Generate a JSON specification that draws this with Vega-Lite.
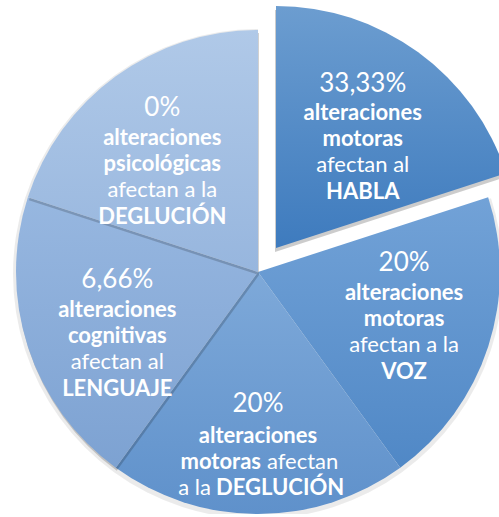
{
  "$schema": "https://vega.github.io/schema/vega-lite/v6.json",
  "width": 484,
  "height": 484,
  "autosize": {"type": "none"},
  "padding": {"left": 16, "top": 30, "right": 0, "bottom": 0},
  "background": "white",
  "view": {"stroke": null},
  "data": {
    "values": [
      {"order": 1, "value": 1, "pct": "", "l1": "", "l2": "", "l3": "", "l4": "", "e0": "33,33%", "e1": "alteraciones", "e2": "motoras", "e3": "afectan al", "e4": "HABLA", "p3": "", "a3": "", "m3b": "", "m3r": "", "d3r": "", "d3b": ""},
      {"order": 2, "value": 1, "pct": "20%", "l1": "alteraciones", "l2": "motoras", "l3": "afectan a la", "l4": "VOZ", "e0": "", "e1": "", "e2": "", "e3": "", "e4": "", "p3": "", "a3": "", "m3b": "", "m3r": "", "d3r": "", "d3b": ""},
      {"order": 3, "value": 1, "pct": "", "l1": "", "l2": "", "l3": "", "l4": "", "e0": "", "e1": "", "e2": "", "e3": "", "e4": "", "p3": "20%", "a3": "alteraciones", "m3b": "motoras", "m3r": "afectan", "d3r": "a la", "d3b": "DEGLUCIÓN"},
      {"order": 4, "value": 1, "pct": "6,66%", "l1": "alteraciones", "l2": "cognitivas", "l3": "afectan al", "l4": "LENGUAJE", "e0": "", "e1": "", "e2": "", "e3": "", "e4": "", "p3": "", "a3": "", "m3b": "", "m3r": "", "d3r": "", "d3b": ""},
      {"order": 5, "value": 1, "pct": "0%", "l1": "alteraciones", "l2": "psicológicas", "l3": "afectan a la", "l4": "DEGLUCIÓN", "e0": "", "e1": "", "e2": "", "e3": "", "e4": "", "p3": "", "a3": "", "m3b": "", "m3r": "", "d3r": "", "d3b": ""}
    ]
  },
  "transform": [
    {"stack": "value", "groupby": [], "sort": [{"field": "order", "order": "ascending"}], "as": ["t0", "t1"]}
  ],
  "layer": [
    {
      "transform": [{"filter": "datum.order != 1"}],
      "mark": {"type": "arc", "fill": "#000000", "opacity": 0.08, "outerRadius": {"expr": "min(width,height)/2 + 3"}, "y": {"expr": "height/2 + 2"}},
      "encoding": {"theta": {"field": "t0", "type": "quantitative"}, "theta2": {"field": "t1"}}
    },
    {
      "transform": [{"filter": "datum.order == 2"}],
      "mark": {"type": "arc", "fill": {"gradient": "linear", "x1": 0, "y1": 0, "x2": 0, "y2": 1, "stops": [{"offset": 0, "color": "#72a2d7"}, {"offset": 1, "color": "#5088c6"}]}},
      "encoding": {"theta": {"field": "t0", "type": "quantitative"}, "theta2": {"field": "t1"}}
    },
    {
      "transform": [{"filter": "datum.order == 3"}],
      "mark": {"type": "arc", "fill": {"gradient": "linear", "x1": 0, "y1": 0, "x2": 0, "y2": 1, "stops": [{"offset": 0, "color": "#7ea9d9"}, {"offset": 1, "color": "#5f91cb"}]}},
      "encoding": {"theta": {"field": "t0", "type": "quantitative"}, "theta2": {"field": "t1"}}
    },
    {
      "transform": [{"filter": "datum.order == 4"}],
      "mark": {"type": "arc", "fill": "#000000", "opacity": 0.18, "x": {"expr": "width/2 + 1"}, "y": {"expr": "height/2 + 3"}},
      "encoding": {"theta": {"field": "t0", "type": "quantitative"}, "theta2": {"field": "t1"}}
    },
    {
      "transform": [{"filter": "datum.order == 4"}],
      "mark": {"type": "arc", "fill": {"gradient": "linear", "x1": 0, "y1": 0, "x2": 0, "y2": 1, "stops": [{"offset": 0, "color": "#97b7e0"}, {"offset": 1, "color": "#7da2d2"}]}},
      "encoding": {"theta": {"field": "t0", "type": "quantitative"}, "theta2": {"field": "t1"}}
    },
    {
      "transform": [{"filter": "datum.order == 5"}],
      "mark": {"type": "arc", "fill": "#000000", "opacity": 0.18, "x": {"expr": "width/2 + 1"}, "y": {"expr": "height/2 + 3"}},
      "encoding": {"theta": {"field": "t0", "type": "quantitative"}, "theta2": {"field": "t1"}}
    },
    {
      "transform": [{"filter": "datum.order == 5"}],
      "mark": {"type": "arc", "fill": {"gradient": "linear", "x1": 0, "y1": 0, "x2": 0, "y2": 1, "stops": [{"offset": 0, "color": "#b0c9e8"}, {"offset": 1, "color": "#97b6de"}]}},
      "encoding": {"theta": {"field": "t0", "type": "quantitative"}, "theta2": {"field": "t1"}}
    },
    {
      "transform": [{"filter": "datum.order == 1"}],
      "mark": {"type": "arc", "fill": "#000000", "opacity": 0.2, "x": {"expr": "width/2 + 17"}, "y": {"expr": "height/2 - 20"}},
      "encoding": {"theta": {"field": "t0", "type": "quantitative"}, "theta2": {"field": "t1"}}
    },
    {
      "transform": [{"filter": "datum.order == 1"}],
      "mark": {"type": "arc", "x": {"expr": "width/2 + 18"}, "y": {"expr": "height/2 - 24"}, "fill": {"gradient": "linear", "x1": 0, "y1": 0, "x2": 0, "y2": 1, "stops": [{"offset": 0, "color": "#6c9dd0"}, {"offset": 1, "color": "#3e7bbe"}]}},
      "encoding": {"theta": {"field": "t0", "type": "quantitative"}, "theta2": {"field": "t1"}}
    },
    {
      "mark": {"type": "text", "radius": 151, "thetaOffset": -0.058, "font": "Lato", "fontSize": 26, "color": "white", "baseline": "middle", "dy": -47},
      "encoding": {"theta": {"field": "value", "type": "quantitative", "stack": true}, "order": {"field": "order"}, "text": {"field": "pct"}}
    },
    {
      "mark": {"type": "text", "radius": 151, "thetaOffset": -0.058, "font": "Lato", "fontSize": 22, "fontWeight": "bold", "color": "white", "baseline": "middle", "dy": -17},
      "encoding": {"theta": {"field": "value", "type": "quantitative", "stack": true}, "order": {"field": "order"}, "text": {"field": "l1"}}
    },
    {
      "mark": {"type": "text", "radius": 151, "thetaOffset": -0.058, "font": "Lato", "fontSize": 22, "fontWeight": "bold", "color": "white", "baseline": "middle", "dy": 9},
      "encoding": {"theta": {"field": "value", "type": "quantitative", "stack": true}, "order": {"field": "order"}, "text": {"field": "l2"}}
    },
    {
      "mark": {"type": "text", "radius": 151, "thetaOffset": -0.058, "font": "Lato", "fontSize": 22, "color": "white", "baseline": "middle", "dy": 35},
      "encoding": {"theta": {"field": "value", "type": "quantitative", "stack": true}, "order": {"field": "order"}, "text": {"field": "l3"}}
    },
    {
      "mark": {"type": "text", "radius": 151, "thetaOffset": -0.058, "font": "Lato", "fontSize": 22, "fontWeight": "bold", "color": "white", "baseline": "middle", "dy": 62},
      "encoding": {"theta": {"field": "value", "type": "quantitative", "stack": true}, "order": {"field": "order"}, "text": {"field": "l4"}}
    },
    {
      "mark": {"type": "text", "x": {"expr": "width/2 + 18"}, "y": {"expr": "height/2 - 24"}, "radius": 140, "thetaOffset": 0.04, "font": "Lato", "fontSize": 26, "color": "white", "baseline": "middle", "dy": -54},
      "encoding": {"theta": {"field": "value", "type": "quantitative", "stack": true}, "order": {"field": "order"}, "text": {"field": "e0"}}
    },
    {
      "mark": {"type": "text", "x": {"expr": "width/2 + 18"}, "y": {"expr": "height/2 - 24"}, "radius": 140, "thetaOffset": 0.04, "font": "Lato", "fontSize": 22, "fontWeight": "bold", "color": "white", "baseline": "middle", "dy": -25},
      "encoding": {"theta": {"field": "value", "type": "quantitative", "stack": true}, "order": {"field": "order"}, "text": {"field": "e1"}}
    },
    {
      "mark": {"type": "text", "x": {"expr": "width/2 + 18"}, "y": {"expr": "height/2 - 24"}, "radius": 140, "thetaOffset": 0.04, "font": "Lato", "fontSize": 22, "fontWeight": "bold", "color": "white", "baseline": "middle", "dy": 1},
      "encoding": {"theta": {"field": "value", "type": "quantitative", "stack": true}, "order": {"field": "order"}, "text": {"field": "e2"}}
    },
    {
      "mark": {"type": "text", "x": {"expr": "width/2 + 18"}, "y": {"expr": "height/2 - 24"}, "radius": 140, "thetaOffset": 0.04, "font": "Lato", "fontSize": 22, "color": "white", "baseline": "middle", "dy": 27},
      "encoding": {"theta": {"field": "value", "type": "quantitative", "stack": true}, "order": {"field": "order"}, "text": {"field": "e3"}}
    },
    {
      "mark": {"type": "text", "x": {"expr": "width/2 + 18"}, "y": {"expr": "height/2 - 24"}, "radius": 140, "thetaOffset": 0.04, "font": "Lato", "fontSize": 22, "fontWeight": "bold", "color": "white", "baseline": "middle", "dy": 54},
      "encoding": {"theta": {"field": "value", "type": "quantitative", "stack": true}, "order": {"field": "order"}, "text": {"field": "e4"}}
    },
    {
      "mark": {"type": "text", "radius": 158, "font": "Lato", "fontSize": 26, "color": "white", "baseline": "middle", "dy": -26},
      "encoding": {"theta": {"field": "value", "type": "quantitative", "stack": true}, "order": {"field": "order"}, "text": {"field": "p3"}}
    },
    {
      "mark": {"type": "text", "radius": 158, "font": "Lato", "fontSize": 22, "fontWeight": "bold", "color": "white", "baseline": "middle", "dy": 6},
      "encoding": {"theta": {"field": "value", "type": "quantitative", "stack": true}, "order": {"field": "order"}, "text": {"field": "a3"}}
    },
    {
      "mark": {"type": "text", "radius": 158, "font": "Lato", "fontSize": 22, "fontWeight": "bold", "color": "white", "baseline": "middle", "align": "right", "dx": 3, "dy": 32},
      "encoding": {"theta": {"field": "value", "type": "quantitative", "stack": true}, "order": {"field": "order"}, "text": {"field": "m3b"}}
    },
    {
      "mark": {"type": "text", "radius": 158, "font": "Lato", "fontSize": 22, "color": "white", "baseline": "middle", "align": "left", "dx": 9, "dy": 32},
      "encoding": {"theta": {"field": "value", "type": "quantitative", "stack": true}, "order": {"field": "order"}, "text": {"field": "m3r"}}
    },
    {
      "mark": {"type": "text", "radius": 158, "font": "Lato", "fontSize": 22, "color": "white", "baseline": "middle", "align": "right", "dx": -47, "dy": 58},
      "encoding": {"theta": {"field": "value", "type": "quantitative", "stack": true}, "order": {"field": "order"}, "text": {"field": "d3r"}}
    },
    {
      "mark": {"type": "text", "radius": 158, "font": "Lato", "fontSize": 22, "fontWeight": "bold", "color": "white", "baseline": "middle", "align": "left", "dx": -42, "dy": 58},
      "encoding": {"theta": {"field": "value", "type": "quantitative", "stack": true}, "order": {"field": "order"}, "text": {"field": "d3b"}}
    }
  ]
}
